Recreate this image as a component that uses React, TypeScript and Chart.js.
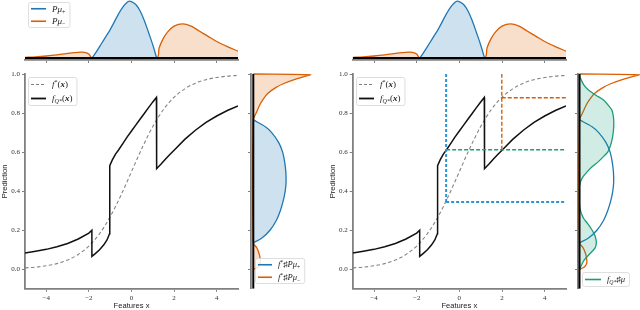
import React, { useEffect, useRef } from "react";
import { Chart, registerables } from "chart.js";
Chart.register(...registerables);

// ---------------- data ----------------
const X_RANGE = [-5, 5];
const Y_RANGE = [-0.1, 1.0];
const xTicks = [-4, -2, 0, 2, 4];
const yTicks = [0, 0.2, 0.4, 0.6, 0.8, 1.0];

// f*(x)  (dashed grey)
const fStarX = [-5, -4.5, -4, -3.5, -3, -2.5, -2, -1.5, -1, -0.5, 0, 0.5, 1, 1.5, 2, 2.5, 3, 3.5, 4, 4.5, 5];
const fStarY = [0.007, 0.011, 0.018, 0.029, 0.047, 0.076, 0.119, 0.182, 0.269, 0.378, 0.5, 0.622, 0.731, 0.818, 0.881, 0.924, 0.953, 0.971, 0.982, 0.989, 0.993];

// f_Q*(x)  (solid black, with jumps)
const fQX = [-5, -4.5, -4, -3.5, -3, -2.5, -2, -1.86, -1.86, -1.7, -1.5, -1.3, -1.15, -1.03, -1.02, -0.9, -0.75, -0.6, -0.4, -0.2, 0, 0.2, 0.4, 0.6, 0.8, 1.0, 1.17, 1.18, 1.4, 1.6, 1.8, 2.0, 2.5, 3, 3.5, 4, 4.5, 5];
const fQY = [0.083, 0.092, 0.102, 0.115, 0.132, 0.155, 0.185, 0.2, 0.066, 0.08, 0.1, 0.125, 0.15, 0.182, 0.53, 0.56, 0.59, 0.612, 0.645, 0.678, 0.708, 0.738, 0.768, 0.798, 0.828, 0.857, 0.88, 0.515, 0.54, 0.565, 0.588, 0.61, 0.665, 0.712, 0.752, 0.785, 0.813, 0.836];

// top marginals: P mu+ and P mu-
const muPlusX = [-1.85, -1.6, -1.4, -1.2, -1.0, -0.8, -0.6, -0.4, -0.2, -0.1, 0.0, 0.2, 0.4, 0.6, 0.8, 1.0, 1.18];
const muPlusY = [0, 0.14, 0.26, 0.38, 0.5, 0.64, 0.78, 0.9, 0.98, 1.0, 0.99, 0.94, 0.83, 0.66, 0.45, 0.23, 0];
const muMinusX = [-5, -4.5, -4, -3.5, -3, -2.7, -2.4, -2.2, -2.0, -1.85, 1.18, 1.3, 1.5, 1.7, 2.0, 2.4, 2.8, 3.2, 3.6, 4.0, 4.5, 5];
const muMinusY = [0.01, 0.02, 0.035, 0.055, 0.08, 0.095, 0.105, 0.1, 0.07, 0.0, 0.0, 0.18, 0.35, 0.46, 0.56, 0.6, 0.56, 0.47, 0.38, 0.29, 0.2, 0.12];

// right marginals: push-forward densities (prediction value, density)
const pushPlusV = [0.136, 0.16, 0.2, 0.25, 0.3, 0.35, 0.4, 0.45, 0.5, 0.55, 0.6, 0.65, 0.7, 0.73, 0.765];
const pushPlusD = [0, 0.15, 0.29, 0.4, 0.47, 0.52, 0.555, 0.57, 0.565, 0.545, 0.51, 0.44, 0.32, 0.21, 0];
const pushMinusV = [0.0, 0.012, 0.03, 0.05, 0.07, 0.09, 0.11, 0.136, 0.765, 0.8, 0.84, 0.87, 0.9, 0.93, 0.95, 0.97, 0.985, 0.996, 1.0];
const pushMinusD = [0, 0.08, 0.12, 0.12, 0.11, 0.09, 0.06, 0, 0, 0.05, 0.11, 0.17, 0.25, 0.39, 0.52, 0.7, 0.87, 1.0, 0];
const pushQV = [0.0, 0.02, 0.048, 0.082, 0.11, 0.133, 0.16, 0.184, 0.21, 0.236, 0.26, 0.287, 0.31, 0.33, 0.36, 0.4, 0.423, 0.45, 0.474, 0.5, 0.525, 0.55, 0.577, 0.6, 0.628, 0.66, 0.696, 0.73, 0.764, 0.79, 0.815, 0.84, 0.867, 0.89, 0.918, 0.94, 0.969, 0.985, 1.0];
const pushQD = [0, 0.03, 0.08, 0.18, 0.26, 0.28, 0.27, 0.24, 0.19, 0.13, 0.07, 0.03, 0.01, 0, 0, 0, 0, 0.02, 0.06, 0.13, 0.21, 0.31, 0.4, 0.47, 0.51, 0.54, 0.56, 0.57, 0.57, 0.56, 0.54, 0.48, 0.4, 0.28, 0.15, 0.08, 0.03, 0.01, 0];

// probe points (right panel dashed lines)
const probeX = [-0.62, 1.99];
const probeFStar = [0.345, 0.878];
const probeFQ = [0.612, 0.612];

// ---------------- style ----------------
const BLUE = "#1f78b4";
const ORANGE = "#d95f02";
const GREEN = "#1b9e77";
const BLUE_FILL = "rgba(31,120,180,0.22)";
const ORANGE_FILL = "rgba(217,95,2,0.2)";
const GREEN_FILL = "rgba(27,158,119,0.2)";
const SPINE = "#808080";
const SERIF = '"Liberation Serif", "DejaVu Serif", serif';
const SANS = '"Liberation Sans", Arial, sans-serif';

const pts = (xs: number[], ys: number[]) => xs.map((x, i) => ({ x, y: ys[i] }));
const hpts = (vals: number[], dens: number[]) => vals.map((v, i) => ({ x: dens[i], y: v }));
const fmtX = (v: number) => (v < 0 ? "\u2212" + Math.abs(v) : String(v));

type Seg = { t: string; sub?: boolean; sup?: boolean; bold?: boolean; up?: boolean };
type LegItem = { segs: Seg[]; color: string; width: number; dash?: number[] };

function legendPlugin(items: LegItem[], bx: number, by: number, bh: number, sample: number, fs: number) {
  return {
    id: "mlegend",
    afterDraw(chart: any) {
      const ctx = chart.ctx;
      ctx.save();
      const segFont = (s: Seg) => {
        const size = s.sub || s.sup ? fs * 0.68 : fs;
        return `${s.up ? "" : "italic "}${s.bold ? "bold " : ""}${size}px ${SERIF}`;
      };
      let maxW = 0;
      for (const it of items) {
        let w = 0;
        for (const s of it.segs) {
          ctx.font = segFont(s);
          w += ctx.measureText(s.t).width;
        }
        maxW = Math.max(maxW, w);
      }
      const bw = 3 + sample + 6 + maxW + 4;
      ctx.fillStyle = "rgba(255,255,255,0.85)";
      ctx.strokeStyle = "#d6d6d6";
      ctx.lineWidth = 0.8;
      ctx.beginPath();
      ctx.roundRect(bx + 0.5, by + 0.5, bw, bh, 2);
      ctx.fill();
      ctx.stroke();
      const rowH = bh / items.length;
      items.forEach((it, i) => {
        const cy = by + 0.5 + rowH * (i + 0.5);
        ctx.setLineDash(it.dash || []);
        ctx.strokeStyle = it.color;
        ctx.lineWidth = it.width;
        ctx.beginPath();
        ctx.moveTo(bx + 3, cy);
        ctx.lineTo(bx + 3 + sample, cy);
        ctx.stroke();
        ctx.setLineDash([]);
        let x = bx + 3 + sample + 6;
        ctx.fillStyle = "#222";
        ctx.textBaseline = "alphabetic";
        const base = cy + fs * 0.32;
        for (const s of it.segs) {
          ctx.font = segFont(s);
          const y = base + (s.sub ? fs * 0.22 : s.sup ? -fs * 0.38 : 0);
          ctx.fillText(s.t, x, y);
          x += ctx.measureText(s.t).width;
        }
      });
      ctx.restore();
    },
  };
}

const tickFont = { family: SERIF, size: 7 };
const titleFont = { family: SANS, size: 7.6 };

function xAxisMain() {
  return {
    type: "linear",
    min: X_RANGE[0],
    max: X_RANGE[1],
    afterBuildTicks: (s: any) => { s.ticks = xTicks.map((v) => ({ value: v })); },
    afterFit: (s: any) => { s.height = 21.2; },
    ticks: { font: tickFont, color: "#333", maxRotation: 0, padding: 2, callback: (v: any) => fmtX(v) },
    grid: { drawOnChartArea: false, drawTicks: true, tickLength: 3, color: SPINE, lineWidth: 1 },
    border: { display: true, color: SPINE, width: 1.8 },
    title: { display: true, text: "Features x", font: titleFont, color: "#222", padding: 0 },
  };
}
function yAxisMain(w: number) {
  return {
    type: "linear",
    min: Y_RANGE[0],
    max: Y_RANGE[1],
    afterBuildTicks: (s: any) => { s.ticks = yTicks.map((v) => ({ value: v })); },
    afterFit: (s: any) => { s.width = w; },
    ticks: { font: tickFont, color: "#333", padding: 2, callback: (v: any) => Number(v).toFixed(1) },
    grid: { drawOnChartArea: false, drawTicks: true, tickLength: 3, color: SPINE, lineWidth: 1 },
    border: { display: true, color: SPINE, width: 1.8 },
    title: { display: true, text: "Prediction", font: titleFont, color: "#222", padding: 0 },
  };
}

const baseOpts = {
  animation: false,
  responsive: false,
  maintainAspectRatio: false,
  events: [],
};

const mainLegendItems: LegItem[] = [
  { segs: [{ t: "f" }, { t: "*", sup: true, up: true }, { t: "(", up: true }, { t: "x", bold: true }, { t: ")", up: true }], color: "#808080", width: 1.2, dash: [3, 2] },
  { segs: [{ t: "f" }, { t: "Q*", sub: true }, { t: "(", up: true }, { t: "x", bold: true }, { t: ")", up: true }], color: "#111", width: 1.8 },
];

function mainConfig(axisW: number, extra: any[]) {
  return {
    type: "line",
    data: {
      datasets: [
        ...extra,
        { data: pts(fQX, fQY), borderColor: "#111", borderWidth: 1.5, pointRadius: 0, tension: 0, fill: false },
        { data: pts(fStarX, fStarY), borderColor: "#858585", borderWidth: 1.1, borderDash: [3.5, 2.5], pointRadius: 0, cubicInterpolationMode: "monotone", fill: false },
      ],
    },
    options: {
      ...baseOpts,
      layout: { padding: { top: 10, right: 4, left: 0, bottom: 0 } },
      plugins: { legend: { display: false }, tooltip: { enabled: false } },
      scales: { x: xAxisMain(), y: yAxisMain(axisW) },
    },
    plugins: [legendPlugin(mainLegendItems, 28, 13, 28, 15, 9)],
  };
}

function topConfig(padLeft: number, withLegend: boolean) {
  const plugins: any[] = [];
  if (withLegend) {
    plugins.push(
      legendPlugin(
        [
          { segs: [{ t: "P" }, { t: "μ" }, { t: "+", sub: true, up: true }], color: BLUE, width: 1.6 },
          { segs: [{ t: "P" }, { t: "μ" }, { t: "\u2212", sub: true, up: true }], color: ORANGE, width: 1.6 },
        ],
        28, 2, 25, 15, 9
      )
    );
  }
  return {
    type: "line",
    data: {
      datasets: [
        { data: [{ x: X_RANGE[0], y: 0 }, { x: X_RANGE[1], y: 0 }], borderColor: "#000", borderWidth: 2, pointRadius: 0, fill: false },
        { data: pts(muPlusX, muPlusY), borderColor: BLUE, backgroundColor: BLUE_FILL, borderWidth: 1.3, pointRadius: 0, tension: 0.35, fill: "origin" },
        { data: pts(muMinusX, muMinusY), borderColor: ORANGE, backgroundColor: ORANGE_FILL, borderWidth: 1.3, pointRadius: 0, tension: 0.3, fill: "origin" },
      ],
    },
    options: {
      ...baseOpts,
      layout: { padding: { top: 0, right: 4, left: padLeft, bottom: 0 } },
      plugins: { legend: { display: false }, tooltip: { enabled: false } },
      scales: {
        x: {
          type: "linear",
          min: X_RANGE[0],
          max: X_RANGE[1],
          afterBuildTicks: (s: any) => { s.ticks = xTicks.map((v) => ({ value: v })); },
          afterFit: (s: any) => { s.height = 6; },
          ticks: { display: false },
          grid: { drawOnChartArea: false, drawTicks: true, tickLength: 3, color: SPINE, lineWidth: 1 },
          border: { display: true, color: SPINE, width: 1.8 },
        },
        y: { type: "linear", display: false, min: -0.035, max: 1.02 },
      },
    },
    plugins,
  };
}

function sideConfig(axisW: number, xmin: number, padRight: number, filled: boolean, withGreen: boolean, legend: any) {
  const ds: any[] = [
    { data: [{ x: 0, y: Y_RANGE[0] }, { x: 0, y: Y_RANGE[1] }], borderColor: "#000", borderWidth: 2, pointRadius: 0, fill: false },
    { data: hpts(pushPlusV, pushPlusD), borderColor: BLUE, backgroundColor: BLUE_FILL, borderWidth: 1.3, pointRadius: 0, tension: 0.3, fill: filled ? "origin" : false },
    { data: hpts(pushMinusV, pushMinusD), borderColor: ORANGE, backgroundColor: ORANGE_FILL, borderWidth: 1.3, pointRadius: 0, tension: 0.3, fill: filled ? "origin" : false, clip: 4 },
  ];
  if (withGreen) {
    ds.splice(1, 0, { data: hpts(pushQV, pushQD), borderColor: GREEN, backgroundColor: GREEN_FILL, borderWidth: 1.3, pointRadius: 0, tension: 0.3, fill: "origin" });
  }
  return {
    type: "line",
    data: { datasets: ds },
    options: {
      ...baseOpts,
      indexAxis: "y",
      layout: { padding: { top: 10, right: padRight, left: 0, bottom: 21.2 } },
      plugins: { legend: { display: false }, tooltip: { enabled: false } },
      scales: {
        x: { type: "linear", display: false, min: xmin, max: 1.0 },
        y: {
          type: "linear",
          position: "left",
          min: Y_RANGE[0],
          max: Y_RANGE[1],
          afterBuildTicks: (s: any) => { s.ticks = yTicks.map((v) => ({ value: v })); },
          afterFit: (s: any) => { s.width = axisW; },
          ticks: { display: false },
          grid: { drawOnChartArea: false, drawTicks: true, tickLength: 3, color: SPINE, lineWidth: 1 },
          border: { display: true, color: SPINE, width: 1.8 },
        },
      },
    },
    plugins: [legend],
  };
}

function ChartBox({ left, top, width, height, make }: { left: number; top: number; width: number; height: number; make: () => any }) {
  const ref = useRef<HTMLCanvasElement>(null);
  useEffect(() => {
    const chart = new Chart(ref.current as HTMLCanvasElement, make());
    return () => chart.destroy();
  }, []);
  return (
    <canvas
      ref={ref}
      width={width}
      height={height}
      style={{ position: "absolute", left, top, width, height }}
    />
  );
}

export default function App() {
  const probeDash = [
    { data: [{ x: probeX[0], y: probeFStar[0] }, { x: probeX[0], y: Y_RANGE[1] }], borderColor: "#2b93d6", borderWidth: 2, borderDash: [3, 2], pointRadius: 0, fill: false },
    { data: [{ x: probeX[0], y: probeFStar[0] }, { x: X_RANGE[1], y: probeFStar[0] }], borderColor: "#2b93d6", borderWidth: 2, borderDash: [3, 2], pointRadius: 0, fill: false },
    { data: [{ x: probeX[0], y: probeFQ[0] }, { x: X_RANGE[1], y: probeFQ[0] }], borderColor: GREEN, borderWidth: 1.4, borderDash: [4, 2], pointRadius: 0, fill: false },
    { data: [{ x: probeX[1], y: probeFQ[1] }, { x: probeX[1], y: Y_RANGE[1] }], borderColor: ORANGE, borderWidth: 1.4, borderDash: [4, 2], pointRadius: 0, fill: false },
    { data: [{ x: probeX[1], y: probeFStar[1] }, { x: X_RANGE[1], y: probeFStar[1] }], borderColor: ORANGE, borderWidth: 1.4, borderDash: [4, 2], pointRadius: 0, fill: false },
  ];

  const leftSideLegend = legendPlugin(
    [
      { segs: [{ t: "f" }, { t: "*", sup: true, up: true }, { t: "♯", up: true }, { t: "P" }, { t: "μ" }, { t: "+", sub: true, up: true }], color: BLUE, width: 1.6 },
      { segs: [{ t: "f" }, { t: "*", sup: true, up: true }, { t: "♯", up: true }, { t: "P" }, { t: "μ" }, { t: "\u2212", sub: true, up: true }], color: ORANGE, width: 1.6 },
    ],
    13, 194, 25, 14, 8.5
  );
  const rightSideLegend = legendPlugin(
    [{ segs: [{ t: "f" }, { t: "Q*", sub: true }, { t: "♯", up: true }, { t: "μ" }], color: GREEN, width: 1.6 }],
    12, 208, 14, 16, 8.5
  );

  return (
    <div style={{ position: "fixed", left: 0, top: 0, width: 640, height: 310, background: "#fff", overflow: "hidden" }}>
      <ChartBox left={0} top={0} width={242} height={66} make={() => topConfig(25, true)} />
      <ChartBox left={0} top={64} width={242} height={246} make={() => mainConfig(25, [])} />
      <ChartBox left={242} top={64} width={78} height={246} make={() => sideConfig(9, -0.04, 9.2, true, false, leftSideLegend)} />
      <ChartBox left={328} top={0} width={242} height={66} make={() => topConfig(24.7, false)} />
      <ChartBox left={328} top={64} width={242} height={246} make={() => mainConfig(24.7, probeDash)} />
      <ChartBox left={570} top={64} width={70} height={246} make={() => sideConfig(8, -0.025, 0.5, false, true, rightSideLegend)} />
    </div>
  );
}
